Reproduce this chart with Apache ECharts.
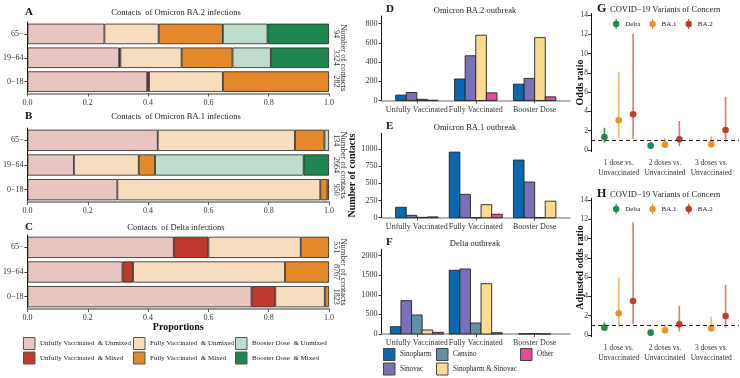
<!DOCTYPE html>
<html><head><meta charset="utf-8">
<script src="https://cdn.jsdelivr.net/npm/echarts@6/dist/echarts.min.js"></script>
<style>html,body{margin:0;padding:0;background:#fff}#c{width:740px;height:378px}</style>
</head><body><div id="c"></div><script>
// ---------- DATA ----------
const ageGroups = ['0−18', '19−64', '65−']; // bottom to top
const statusNames = ['Unfully Vaccinated  & Unmixed', 'Unfully Vaccinated  & Mixed', 'Fully Vaccinated  & Unmixed', 'Fully Vaccinated  & Mixed', 'Booster Dose  & Unmixed', 'Booster Dose  & Mixed'];
const statusColors = ['#E9C5C1', '#BE3A2B', '#F7DDBF', '#E3892B', '#BEDDCC', '#1F8650'];
// proportions, each array in ageGroups order
const ba2_uu = [0.397, 0.304, 0.255];
const ba2_um = [0.006, 0.004, 0];
const ba2_fu = [0.245, 0.203, 0.180];
const ba2_fm = [0.352, 0.169, 0.213];
const ba2_bu = [0, 0.127, 0.148];
const ba2_bm = [0, 0.193, 0.204];
const ba1_uu = [0.298, 0.154, 0.432];
const ba1_um = [0, 0, 0];
const ba1_fu = [0.673, 0.215, 0.455];
const ba1_fm = [0.024, 0.054, 0.098];
const ba1_bu = [0.005, 0.493, 0.015];
const ba1_bm = [0, 0.084, 0];
const dl_uu = [0.743, 0.315, 0.485];
const dl_um = [0.079, 0.035, 0.115];
const dl_fu = [0.164, 0.504, 0.306];
const dl_fm = [0.014, 0.146, 0.094];
const dl_bu = [0, 0, 0];
const dl_bm = [0, 0, 0];
const contactsBA2 = [282, 3324, 94];
const contactsBA1 = [950, 2664, 134];
const contactsDelta = [1823, 8767, 551];

const vacCats = ['Unfully Vaccinated', 'Fully Vaccinated', 'Booster Dose'];
const vaccines = ['Sinopharm', 'Sinovac', 'Cansino', 'Sinopharm & Sinovac', 'Other'];
const vacColors = ['#0B68AE', '#7A70B6', '#5E93A6', '#FCDB8E', '#E64A98'];
// null = combination absent
const D_sinopharm = [56, 224, 170];
const D_sinovac = [83, 466, 230];
const D_cansino = [12, null, null];
const D_mix = [null, 680, 655];
const D_other = [3, 80, 38];
const E_sinopharm = [152, 956, 840];
const E_sinovac = [35, 340, 520];
const E_cansino = [5, 0, 0];
const E_mix = [null, 190, 240];
const E_other = [12, 50, null];
const F_sinopharm = [186, 1625, 5];
const F_sinovac = [850, 1658, 8];
const F_cansino = [485, 280, null];
const F_mix = [102, 1283, 3];
const F_other = [43, 33, null];
const D_ticks = [0, 200, 400, 600, 800];
const E_ticks = [0, 250, 500, 750, 1000];
const F_ticks = [0, 500, 1000, 1500, 2000];

const doseCats = ['1 dose vs.\nUnvaccinated', '2 doses vs.\nUnvaccinated', '3 doses vs.\nUnvaccinated'];
const variants = ['Delta', 'BA.1', 'BA.2'];
const varColors = ['#1E8A4F', '#EF9126', '#C23B2C'];
const varLineColors = ['#2E9A5C', '#F4B872', '#DD7A6E'];
const or_ticks = [0, 2, 4, 6, 8, 10, 12, 14];
// odds ratio (G): estimate, lower, upper
const G_delta_est = [1.35, 0.45, null], G_delta_lo = [0.76, 0.3, null], G_delta_hi = [2.3, 0.6, null];
const G_ba1_est = [3.08, 0.55, 0.59], G_ba1_lo = [1.2, 0.25, 0.25], G_ba1_hi = [8.12, 1.3, 1.45];
const G_ba2_est = [3.7, 1.1, 2.07], G_ba2_lo = [1.15, 0.4, 0.8], G_ba2_hi = [12.03, 3.0, 5.5];
// adjusted odds ratio (H)
const H_delta_est = [0.76, 0.24, null], H_delta_lo = [0.45, 0.15, null], H_delta_hi = [1.3, 0.35, null];
const H_ba1_est = [2.25, 0.48, 0.7], H_ba1_lo = [0.85, 0.25, 0.3], H_ba1_hi = [5.95, 1.1, 1.9];
const H_ba2_est = [3.53, 1.1, 1.97], H_ba2_lo = [1.1, 0.35, 0.76], H_ba2_hi = [11.7, 3.04, 5.2];

// ---------- CHART ----------
const FONT = "'Liberation Serif','Times New Roman',serif";
const chart = echarts.init(document.getElementById('c'), null, {renderer: 'canvas'});
const grids = [], xAxes = [], yAxes = [], series = [], legends = [], graphics = [];

// --- Panels A, B, C ---
const propPanels = [
  {top: 22, height: 71.5, data: [ba2_uu, ba2_um, ba2_fu, ba2_fm, ba2_bu, ba2_bm], counts: contactsBA2, letter: 'A', title: 'Contacts  of Omicron BA.2 infections', ty: 13},
  {top: 128, height: 74, data: [ba1_uu, ba1_um, ba1_fu, ba1_fm, ba1_bu, ba1_bm], counts: contactsBA1, letter: 'B', title: 'Contacts  of Omicron BA.1 infections', ty: 117},
  {top: 235, height: 74, data: [dl_uu, dl_um, dl_fu, dl_fm, dl_bu, dl_bm], counts: contactsDelta, letter: 'C', title: 'Contacts  of Delta infections', ty: 228},
];
propPanels.forEach((p, i) => {
  const gi = grids.length;
  grids.push({left: 23, width: 306, top: p.top, height: p.height});
  xAxes.push({gridIndex: gi, type: 'value', min: 0, max: 1, interval: 0.2,
    axisLine: {show: true, lineStyle: {color: '#9a9a9a', width: 2}},
    axisTick: {show: true, length: 3, lineStyle: {color: '#555'}},
    splitLine: {show: false},
    axisLabel: {fontFamily: FONT, fontSize: 8, color: '#333', margin: 5, formatter: v => v.toFixed(1)},
    name: i === 2 ? 'Proportions' : '', nameLocation: 'middle', nameGap: 13, nameMoveOverlap: false,
    nameTextStyle: {fontFamily: FONT, fontSize: 10, fontWeight: 'bold', color: '#111'}});
  const yl = yAxes.length;
  yAxes.push({gridIndex: gi, type: 'category', data: ageGroups,
    axisLine: {show: true, lineStyle: {color: '#111', width: 1}},
    axisTick: {show: true, length: 3, alignWithLabel: true, lineStyle: {color: '#333'}},
    axisLabel: {fontFamily: FONT, fontSize: 8, color: '#333', margin: 4}});
  yAxes.push({gridIndex: gi, type: 'category', data: ageGroups, position: 'right',
    axisLine: {show: false}, axisTick: {show: false},
    axisLabel: {fontFamily: FONT, fontSize: 8, color: '#333', margin: 3, rotate: -90,
      formatter: (v, idx) => String(p.counts[idx])},
    name: 'Number of contacts', nameLocation: 'middle', nameRotate: -90, nameGap: 10, nameMoveOverlap: false,
    nameTextStyle: {fontFamily: FONT, fontSize: 8.5, color: '#333'}});
  p.data.forEach((arr, k) => {
    series.push({type: 'bar', name: statusNames[k], xAxisIndex: gi, yAxisIndex: yl, stack: 'p' + i,
      barCategoryGap: '14%', data: arr.map(v => v > 0 ? v : '-'),
      itemStyle: {color: statusColors[k], borderColor: '#222', borderWidth: 0.8}});
  });
  graphics.push({type: 'text', left: 25, top: p.ty - 6, style: {text: p.letter, font: `bold 11px ${FONT}`, fill: '#111'}});
  graphics.push({type: 'text', x: 176, y: p.ty, style: {text: p.title, font: `8.5px ${FONT}`, fill: '#222', align: 'center', verticalAlign: 'middle'}});
});
[[0, 1, 23], [2, 3, 133], [4, 5, 235]].forEach(c => {
  legends.push({data: [statusNames[c[0]], statusNames[c[1]]], orient: 'vertical', left: c[2], top: 337, padding: 0,
    itemWidth: 11.5, itemHeight: 12, itemGap: 1.5, icon: 'rect', textStyle: {fontFamily: FONT, fontSize: 7, color: '#222'},
    itemStyle: {borderColor: '#555', borderWidth: 1}, selectedMode: false});
});

// --- Panels D, E, F ---
function buildDodge(arrs) {
  // position_dodge(preserve='single'): only present bars are placed, centred in each category
  return arrs.map((arr, s) => arr.map((v, c) => {
    if (v === null) return null;
    const present = arrs.map(a => a[c] !== null);
    const n = present.filter(Boolean).length;
    const slot = present.slice(0, s).filter(Boolean).length;
    return [c + 1, v, slot, n];
  }).filter(d => d !== null));
}
function barRender(params, api) {
  const x = api.value(0), v = api.value(1), slot = api.value(2), n = api.value(3);
  const w = 0.18;
  const x0 = x + (slot - n / 2) * w;
  const p0 = api.coord([x0, v]);
  const p1 = api.coord([x0 + w, 0]);
  return {type: 'rect', shape: {x: p0[0], y: p0[1], width: p1[0] - p0[0], height: p1[1] - p0[1]},
    style: {fill: api.visual('color'), stroke: '#222', lineWidth: 0.9}};
}
const barPanels = [
  {top: 16, height: 84.5, max: 880, ticks: D_ticks, arrs: [D_sinopharm, D_sinovac, D_cansino, D_mix, D_other], letter: 'D', title: 'Omicron BA.2 outbreak', ty: 10},
  {top: 133.3, height: 84.4, max: 1230, ticks: E_ticks, arrs: [E_sinopharm, E_sinovac, E_cansino, E_mix, E_other], letter: 'E', title: 'Omicron BA.1 outbreak', ty: 127, yname: 'Number of contacts'},
  {top: 249.3, height: 84.7, max: 2160, ticks: F_ticks, arrs: [F_sinopharm, F_sinovac, F_cansino, F_mix, F_other], letter: 'F', title: 'Delta outbreak', ty: 243},
];
barPanels.forEach(p => {
  const gi = grids.length;
  grids.push({left: 381.5, width: 188.5, top: p.top, height: p.height});
  xAxes.push({gridIndex: gi, type: 'value', min: 0.4, max: 3.6,
    axisLine: {show: true, lineStyle: {color: '#9a9a9a', width: 1.5}},
    axisTick: {show: true, length: 3, customValues: [1, 2, 3], lineStyle: {color: '#555'}},
    splitLine: {show: false},
    axisLabel: {fontFamily: FONT, fontSize: 8, color: '#333', margin: 5, customValues: [1, 2, 3], formatter: v => vacCats[Math.round(v) - 1]}});
  const yi = yAxes.length;
  yAxes.push({gridIndex: gi, type: 'value', min: 0, max: p.max,
    axisLine: {show: true, lineStyle: {color: '#111', width: 1}},
    axisTick: {show: true, length: 3, customValues: p.ticks, lineStyle: {color: '#333'}},
    splitLine: {show: false},
    axisLabel: {fontFamily: FONT, fontSize: 8, color: '#333', margin: 4, customValues: p.ticks, formatter: v => String(v)},
    name: p.yname || '', nameLocation: 'middle', nameGap: 24, nameMoveOverlap: false,
    nameTextStyle: {fontFamily: FONT, fontSize: 10, fontWeight: 'bold', color: '#111'}});
  const dd = buildDodge(p.arrs);
  dd.forEach((d, s) => {
    series.push({type: 'custom', name: vaccines[s], xAxisIndex: gi, yAxisIndex: yi, data: d, renderItem: barRender,
      itemStyle: {color: vacColors[s]}, encode: {x: 0, y: 1}});
  });
  graphics.push({type: 'text', left: 386, top: p.ty - 6, style: {text: p.letter, font: `bold 11px ${FONT}`, fill: '#111'}});
  graphics.push({type: 'text', x: 475, y: p.ty + 1, style: {text: p.title, font: `8.5px ${FONT}`, fill: '#222', align: 'center', verticalAlign: 'middle'}});
});
[[[0, 1], 383], [[2, 3], 436], [[4], 520]].forEach(c => {
  legends.push({data: c[0].map(k => vaccines[k]), orient: 'vertical', left: c[1], top: 348, padding: 0,
    itemWidth: 11.5, itemHeight: 12, itemGap: 1.5, icon: 'rect', textStyle: {fontFamily: FONT, fontSize: 7.2, color: '#222'},
    itemStyle: {borderColor: '#444', borderWidth: 1}, selectedMode: false});
});

// --- Panels G, H ---
const offsets = [-0.31, 0, 0.31];
function prData(est, lo, hi, k) {
  return est.map((e, c) => e === null ? null : [c + 1 + offsets[k], e, lo[c], hi[c]]).filter(d => d !== null);
}
function makePR(lineColor) {
  return function (params, api) {
    const x = api.value(0);
    const pe = api.coord([x, api.value(1)]), pl = api.coord([x, api.value(2)]), ph = api.coord([x, api.value(3)]);
    return {type: 'group', children: [
      {type: 'line', shape: {x1: pl[0], y1: pl[1], x2: ph[0], y2: ph[1]}, style: {stroke: lineColor, lineWidth: 1.6}},
      {type: 'circle', shape: {cx: pe[0], cy: pe[1], r: 3.3}, style: {fill: api.visual('color')}}
    ]};
  };
}
const prIcon = 'path://M4.4,0H5.6V10H4.4Z M5,1.8A3.2,3.2 0 1,1 4.99,1.8Z';
const orPanels = [
  {top: 13.3, sets: [[G_delta_est, G_delta_lo, G_delta_hi], [G_ba1_est, G_ba1_lo, G_ba1_hi], [G_ba2_est, G_ba2_lo, G_ba2_hi]], yname: 'Odds ratio', letter: 'G', ty: 9, ly: 19},
  {top: 198.3, sets: [[H_delta_est, H_delta_lo, H_delta_hi], [H_ba1_est, H_ba1_lo, H_ba1_hi], [H_ba2_est, H_ba2_lo, H_ba2_hi]], yname: 'Adjusted odds ratio', letter: 'H', ty: 194, ly: 204},
];
orPanels.forEach(p => {
  const gi = grids.length;
  grids.push({left: 591, width: 148, top: p.top, height: 138.4});
  xAxes.push({gridIndex: gi, type: 'value', min: 0.4, max: 3.6,
    axisLine: {show: false}, axisTick: {show: false}, splitLine: {show: false},
    axisLabel: {fontFamily: FONT, fontSize: 7.5, color: '#333', margin: 6, lineHeight: 10, customValues: [1, 2, 3], formatter: v => doseCats[Math.round(v) - 1]}});
  const yi = yAxes.length;
  yAxes.push({gridIndex: gi, type: 'value', min: -0.18, max: 14.18,
    axisLine: {show: true, lineStyle: {color: '#111', width: 1}},
    axisTick: {show: true, length: 3, customValues: or_ticks, lineStyle: {color: '#333'}},
    splitLine: {show: false},
    axisLabel: {fontFamily: FONT, fontSize: 7.5, color: '#333', margin: 3, customValues: or_ticks},
    name: p.yname, nameLocation: 'middle', nameGap: 6, nameMoveOverlap: false,
    nameTextStyle: {fontFamily: FONT, fontSize: 10, fontWeight: 'bold', color: '#111'}});
  p.sets.forEach((s, k) => {
    const ser = {type: 'custom', name: variants[k], xAxisIndex: gi, yAxisIndex: yi, data: prData(s[0], s[1], s[2], k),
      renderItem: makePR(varLineColors[k]), itemStyle: {color: varColors[k]}, encode: {x: 0, y: [1, 2, 3]}, z: 3};
    if (k === 0) {
      ser.markLine = {silent: true, symbol: 'none', label: {show: false}, data: [{yAxis: 1}],
        lineStyle: {type: [4, 3], color: '#222', width: 1.1}};
    }
    series.push(ser);
  });
  graphics.push({type: 'text', left: 597, top: p.ty - 6, style: {text: p.letter, font: `bold 12px ${FONT}`, fill: '#111'}});
  graphics.push({type: 'text', x: 610, y: p.ty + 1, style: {text: 'COVID−19 Variants of Concern', font: `8.5px ${FONT}`, fill: '#222', verticalAlign: 'middle'}});
  legends.push({data: variants.map((v, k) => ({name: v, icon: prIcon, itemStyle: {color: varColors[k]}})), left: 613, top: p.ly, padding: 0,
    itemWidth: 8, itemHeight: 10, itemGap: 9, textStyle: {fontFamily: FONT, fontSize: 7, color: '#222'}, selectedMode: false});
});

chart.setOption({
  animation: false,
  textStyle: {fontFamily: FONT},
  grid: grids, xAxis: xAxes, yAxis: yAxes, series: series, legend: legends, graphic: graphics
});
</script></body></html>
